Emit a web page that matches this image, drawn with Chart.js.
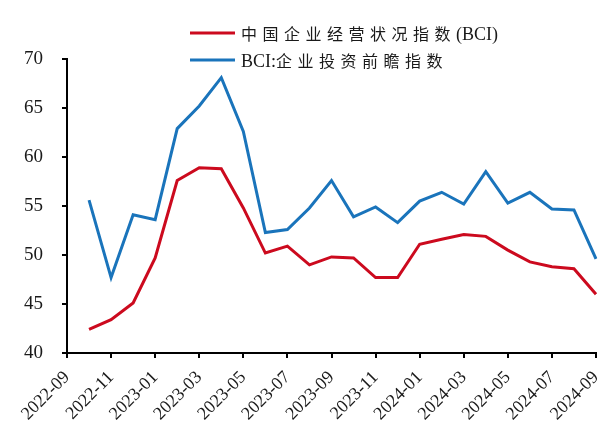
<!DOCTYPE html>
<html>
<head>
<meta charset="utf-8">
<script src="https://cdn.jsdelivr.net/npm/chart.js@4/dist/chart.umd.min.js"></script>
<style>
  html, body { margin: 0; padding: 0; background: #fff; }
  #wrap { width: 598px; height: 428px; position: relative; }
</style>
</head>
<body>
<div id="wrap"><canvas id="bciChart"></canvas></div>
<script>
// months on the x axis (ticks every other month)
var months = ['2022-09', '2022-10', '2022-11', '2022-12', '2023-01', '2023-02', '2023-03',
  '2023-04', '2023-05', '2023-06', '2023-07', '2023-08', '2023-09', '2023-10', '2023-11',
  '2023-12', '2024-01', '2024-02', '2024-03', '2024-04', '2024-05', '2024-06', '2024-07',
  '2024-08', '2024-09'];

// series start at 2022-10
var dataMonths = months.slice(1);
var bci = [42.4, 43.4, 45.1, 49.7, 57.6, 58.9, 58.8, 54.8, 50.2, 50.9, 49.0, 49.8,
  49.7, 47.7, 47.7, 51.1, 51.6, 52.1, 51.9, 50.5, 49.3, 48.8, 48.6, 46.0];
var investBci = [55.6, 47.7, 54.1, 53.6, 62.9, 65.2, 68.1, 62.6, 52.3, 52.6, 54.8, 57.6,
  53.9, 54.9, 53.3, 55.5, 56.4, 55.2, 58.5, 55.3, 56.4, 54.7, 54.6, 49.6];

var seriesNames = ['中国企业经营状况指数(BCI)', 'BCI:企业投资前瞻指数'];
var seriesColors = ['#cc0a1e', '#1a74bb'];
var yTicks = [40, 45, 50, 55, 60, 65, 70];

function pairs(values) {
  return values.map(function (v, i) { return { x: dataMonths[i], y: v }; });
}

// write a label char by char: CJK glyphs on a wide pitch, latin at its own width
function drawMixed(ctx, text, x, y) {
  for (var i = 0; i < text.length; i++) {
    var ch = text[i];
    if (/[\u4e00-\u9fff]/.test(ch)) {
      ctx.font = '16px "Noto Sans CJK SC"';
      ctx.fillText(ch, x, y);
      x += 21.5;
    } else {
      ctx.font = '18px "Liberation Serif"';
      ctx.fillText(ch, x, y + 1);
      x += ctx.measureText(ch).width;
    }
  }
}

// two-row legend drawn over the top of the plot
var stackedLegend = {
  id: 'stackedLegend',
  afterDraw: function (chart) {
    var ctx = chart.ctx;
    ctx.save();
    chart.data.datasets.forEach(function (ds, i) {
      var y = 33 + i * 27;
      ctx.strokeStyle = ds.borderColor;
      ctx.lineWidth = 3;
      ctx.beginPath();
      ctx.moveTo(190, y);
      ctx.lineTo(235, y);
      ctx.stroke();
      ctx.fillStyle = '#1a1a1a';
      ctx.textBaseline = 'middle';
      drawMixed(ctx, ds.label, 241, y + 1);
    });
    ctx.restore();
  }
};

var ctx = document.getElementById('bciChart').getContext('2d');

var chart = new Chart(ctx, {
  type: 'line',
  data: {
    labels: months,
    datasets: [{
      label: seriesNames[0],
      data: pairs(bci),
      borderColor: seriesColors[0],
      borderWidth: 3,
      pointRadius: 0,
      tension: 0
    }, {
      label: seriesNames[1],
      data: pairs(investBci),
      borderColor: seriesColors[1],
      borderWidth: 3,
      pointRadius: 0,
      tension: 0
    }]
  },
  options: {
    responsive: true,
    maintainAspectRatio: false,
    animation: false,
    layout: { padding: { top: 59, right: 2, left: 0, bottom: 0 } },
    plugins: {
      legend: { display: false },
      tooltip: { enabled: false }
    },
    scales: {
      x: {
        type: 'category',
        offset: false,
        afterFit: function (axis) {
          axis.height = 75;
          // rotated labels end at their tick, so no side padding is needed
          axis.paddingLeft = 0;
          axis.paddingRight = 0;
        },
        border: { display: true, color: '#000', width: 2 },
        grid: { drawOnChartArea: false, drawTicks: true, tickLength: 5, color: '#000', lineWidth: 2 },
        ticks: {
          autoSkip: false,
          maxRotation: 45,
          minRotation: 45,
          padding: 9,
          color: '#1a1a1a',
          font: { family: '"Liberation Serif"', size: 18 },
          callback: function (val, idx) {
            return idx % 2 === 0 ? months[idx] : null;
          }
        }
      },
      y: {
        min: 40,
        max: 70,
        afterBuildTicks: function (axis) {
          axis.ticks = yTicks.map(function (v) { return { value: v }; });
        },
        afterFit: function (axis) { axis.width = 67; },
        border: { display: true, color: '#000', width: 2 },
        grid: { drawOnChartArea: false, drawTicks: true, tickLength: 5, color: '#000', lineWidth: 2 },
        ticks: {
          padding: 19,
          color: '#1a1a1a',
          font: { family: '"Liberation Serif"', size: 19 }
        }
      }
    }
  },
  plugins: [stackedLegend]
});
</script>
</body>
</html>
